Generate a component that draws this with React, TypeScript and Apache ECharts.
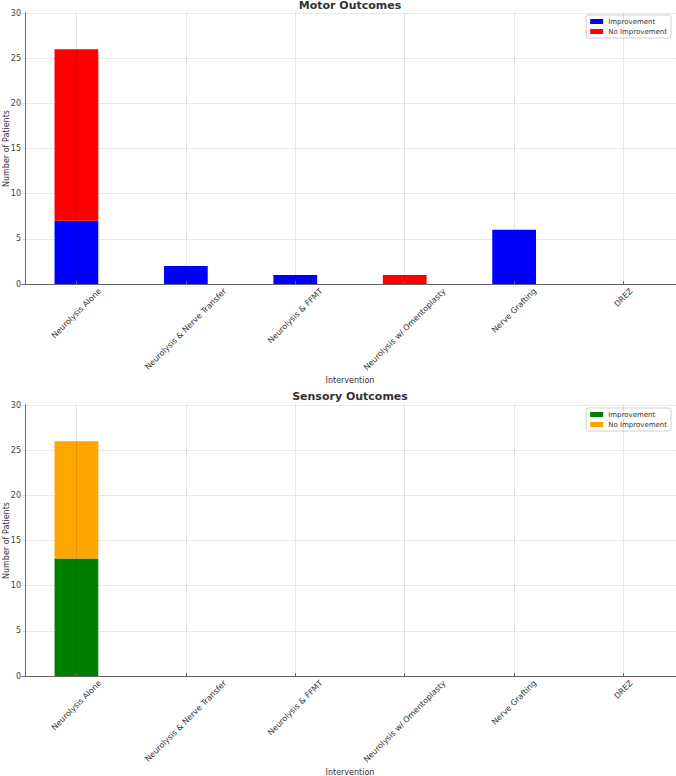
import React, { useEffect, useRef } from "react";
import * as echarts from "echarts";

const interventions = [
  "Neurolysis Alone",
  "Neurolysis & Nerve Transfer",
  "Neurolysis & FFMT",
  "Neurolysis w/ Omentoplasty",
  "Nerve Grafting",
  "DREZ",
];
const motorImprovement = [7, 2, 1, 0, 6, 0];
const motorNoImprovement = [19, 0, 0, 1, 0, 0];
const sensoryImprovement = [13, 0, 0, 0, 0, 0];
const sensoryNoImprovement = [13, 0, 0, 0, 0, 0];
const yTicks = [0, 5, 10, 15, 20, 25, 30];

const FONT = '"DejaVu Sans", sans-serif';
const LABEL_SIZE = 8;

// Rotated category labels are centred under their tick; the text is pushed
// down by half its rotated extent so the label box hangs from the axis.
function labelRich() {
  const ctx = document.createElement("canvas").getContext("2d")!;
  ctx.font = `${LABEL_SIZE}px "DejaVu Sans"`;
  const rich: Record<string, any> = {};
  interventions.forEach((name, i) => {
    const w = ctx.measureText(name).width;
    const p = (w + LABEL_SIZE) / 2;
    rich["c" + i] = {
      fontFamily: FONT,
      fontSize: LABEL_SIZE,
      color: "#333",
      padding: [p, p, 0, 0],
    };
  });
  return rich;
}

export default function App() {
  const ref = useRef<HTMLDivElement>(null);

  useEffect(() => {
    if (!ref.current) return;
    const chart = echarts.init(ref.current, null, { renderer: "svg" });
    const rich = labelRich();

    // The plot spans a little more than the outer half-bands on each side,
    // so the grid reaches slightly past the y axis, which is pulled inward.
    const grids = [
      { left: 21.7, right: -2.3, top: 13, height: 271, containLabel: false, outerBoundsMode: "none" },
      { left: 21.7, right: -2.3, top: 405, height: 271, containLabel: false, outerBoundsMode: "none" },
    ];

    const catAxis = (gridIndex: number) => ({
      type: "category",
      gridIndex,
      data: interventions,
      boundaryGap: true,
      name: "Intervention",
      nameLocation: "middle",
      nameGap: 92,
      nameMoveOverlap: false,
      nameTextStyle: { fontFamily: FONT, fontSize: 8, color: "#333" },
      axisLine: { lineStyle: { color: "#666", width: 1 } },
      axisTick: { show: false },
      splitLine: { show: false },
      axisLabel: {
        interval: 0,
        rotate: 45,
        align: "center",
        verticalAlign: "middle",
        margin: 3,
        formatter: (v: string, i: number) => `{c${i}|${v}}`,
        rich,
      },
    });

    // Half-step axis used only to draw vertical grid lines through category centres
    const halfSteps = Array.from({ length: interventions.length * 2 + 1 }, (_, k) => String(k));
    const gridAxis = (gridIndex: number) => ({
      type: "category",
      gridIndex,
      data: halfSteps,
      boundaryGap: false,
      position: "bottom",
      z: 5,
      axisLine: { show: false },
      axisTick: {
        show: true,
        inside: true,
        length: 3,
        interval: (k: number) => k % 2 === 1,
        lineStyle: { color: "#666" },
      },
      axisLabel: { show: false },
      splitLine: {
        show: true,
        interval: (k: number) => k % 2 === 1,
        lineStyle: { color: "rgba(0,0,0,0.1)", width: 1 },
      },
    });

    const valAxis = (gridIndex: number) => ({
      type: "value",
      gridIndex,
      offset: -3.3,
      min: yTicks[0],
      max: yTicks[yTicks.length - 1],
      interval: yTicks[1] - yTicks[0],
      name: "Number of Patients",
      nameLocation: "middle",
      nameGap: 15,
      nameMoveOverlap: false,
      nameTextStyle: { fontFamily: FONT, fontSize: 8, color: "#333" },
      axisLine: { show: true, lineStyle: { color: "#666", width: 1 } },
      axisTick: { show: false },
      axisLabel: { fontFamily: FONT, fontSize: 8, color: "#444", margin: 4 },
      splitLine: {
        show: true,
        lineStyle: { color: "#e2e2e2", width: 1, type: [3, 1] },
      },
    });

    const bar = (
      name: string,
      data: number[],
      color: string,
      axisIdx: number,
      stack: string
    ) => ({
      type: "bar",
      name,
      data,
      stack,
      xAxisIndex: axisIdx,
      yAxisIndex: axisIdx / 2,
      barWidth: "40%",
      itemStyle: { color },
      emphasis: { disabled: true },
    });

    const legend = (top: number, colors: string[]) => ({
      orient: "vertical",
      right: 5,
      top,
      padding: [3, 4, 3, 4],
      itemGap: 3,
      itemWidth: 13,
      itemHeight: 5,
      borderColor: "#d0d0d0",
      borderWidth: 1,
      borderRadius: 2,
      backgroundColor: "#fff",
      selectedMode: false,
      icon: "rect",
      textStyle: { fontFamily: FONT, fontSize: 7, color: "#333" },
      data: [
        { name: "Improvement", itemStyle: { color: colors[0] } },
        { name: "No Improvement", itemStyle: { color: colors[1] } },
      ],
    });

    chart.setOption({
      animation: false,
      backgroundColor: "#fff",
      textStyle: { fontFamily: FONT },
      title: [
        {
          text: "Motor Outcomes",
          left: 350,
          textAlign: "center",
          top: 0,
          padding: 0,
          textStyle: { fontFamily: FONT, fontSize: 11, fontWeight: "bold", color: "#333" },
        },
        {
          text: "Sensory Outcomes",
          left: 350,
          textAlign: "center",
          top: 391,
          padding: 0,
          textStyle: { fontFamily: FONT, fontSize: 11, fontWeight: "bold", color: "#333" },
        },
      ],
      legend: [
        legend(15, ["#0000ff", "#ff0000"]),
        legend(408, ["#008000", "#ffa500"]),
      ],
      grid: grids,
      xAxis: [catAxis(0), gridAxis(0), catAxis(1), gridAxis(1)],
      yAxis: [valAxis(0), valAxis(1)],
      series: [
        bar("Improvement", motorImprovement, "#0000ff", 0, "motor"),
        bar("No Improvement", motorNoImprovement, "#ff0000", 0, "motor"),
        bar("Improvement", sensoryImprovement, "#008000", 2, "sensory"),
        bar("No Improvement", sensoryNoImprovement, "#ffa500", 2, "sensory"),
      ],
    });

    return () => chart.dispose();
  }, []);

  return <div ref={ref} style={{ width: 676, height: 776, position: "absolute", left: 0, top: 0 }} />;
}
